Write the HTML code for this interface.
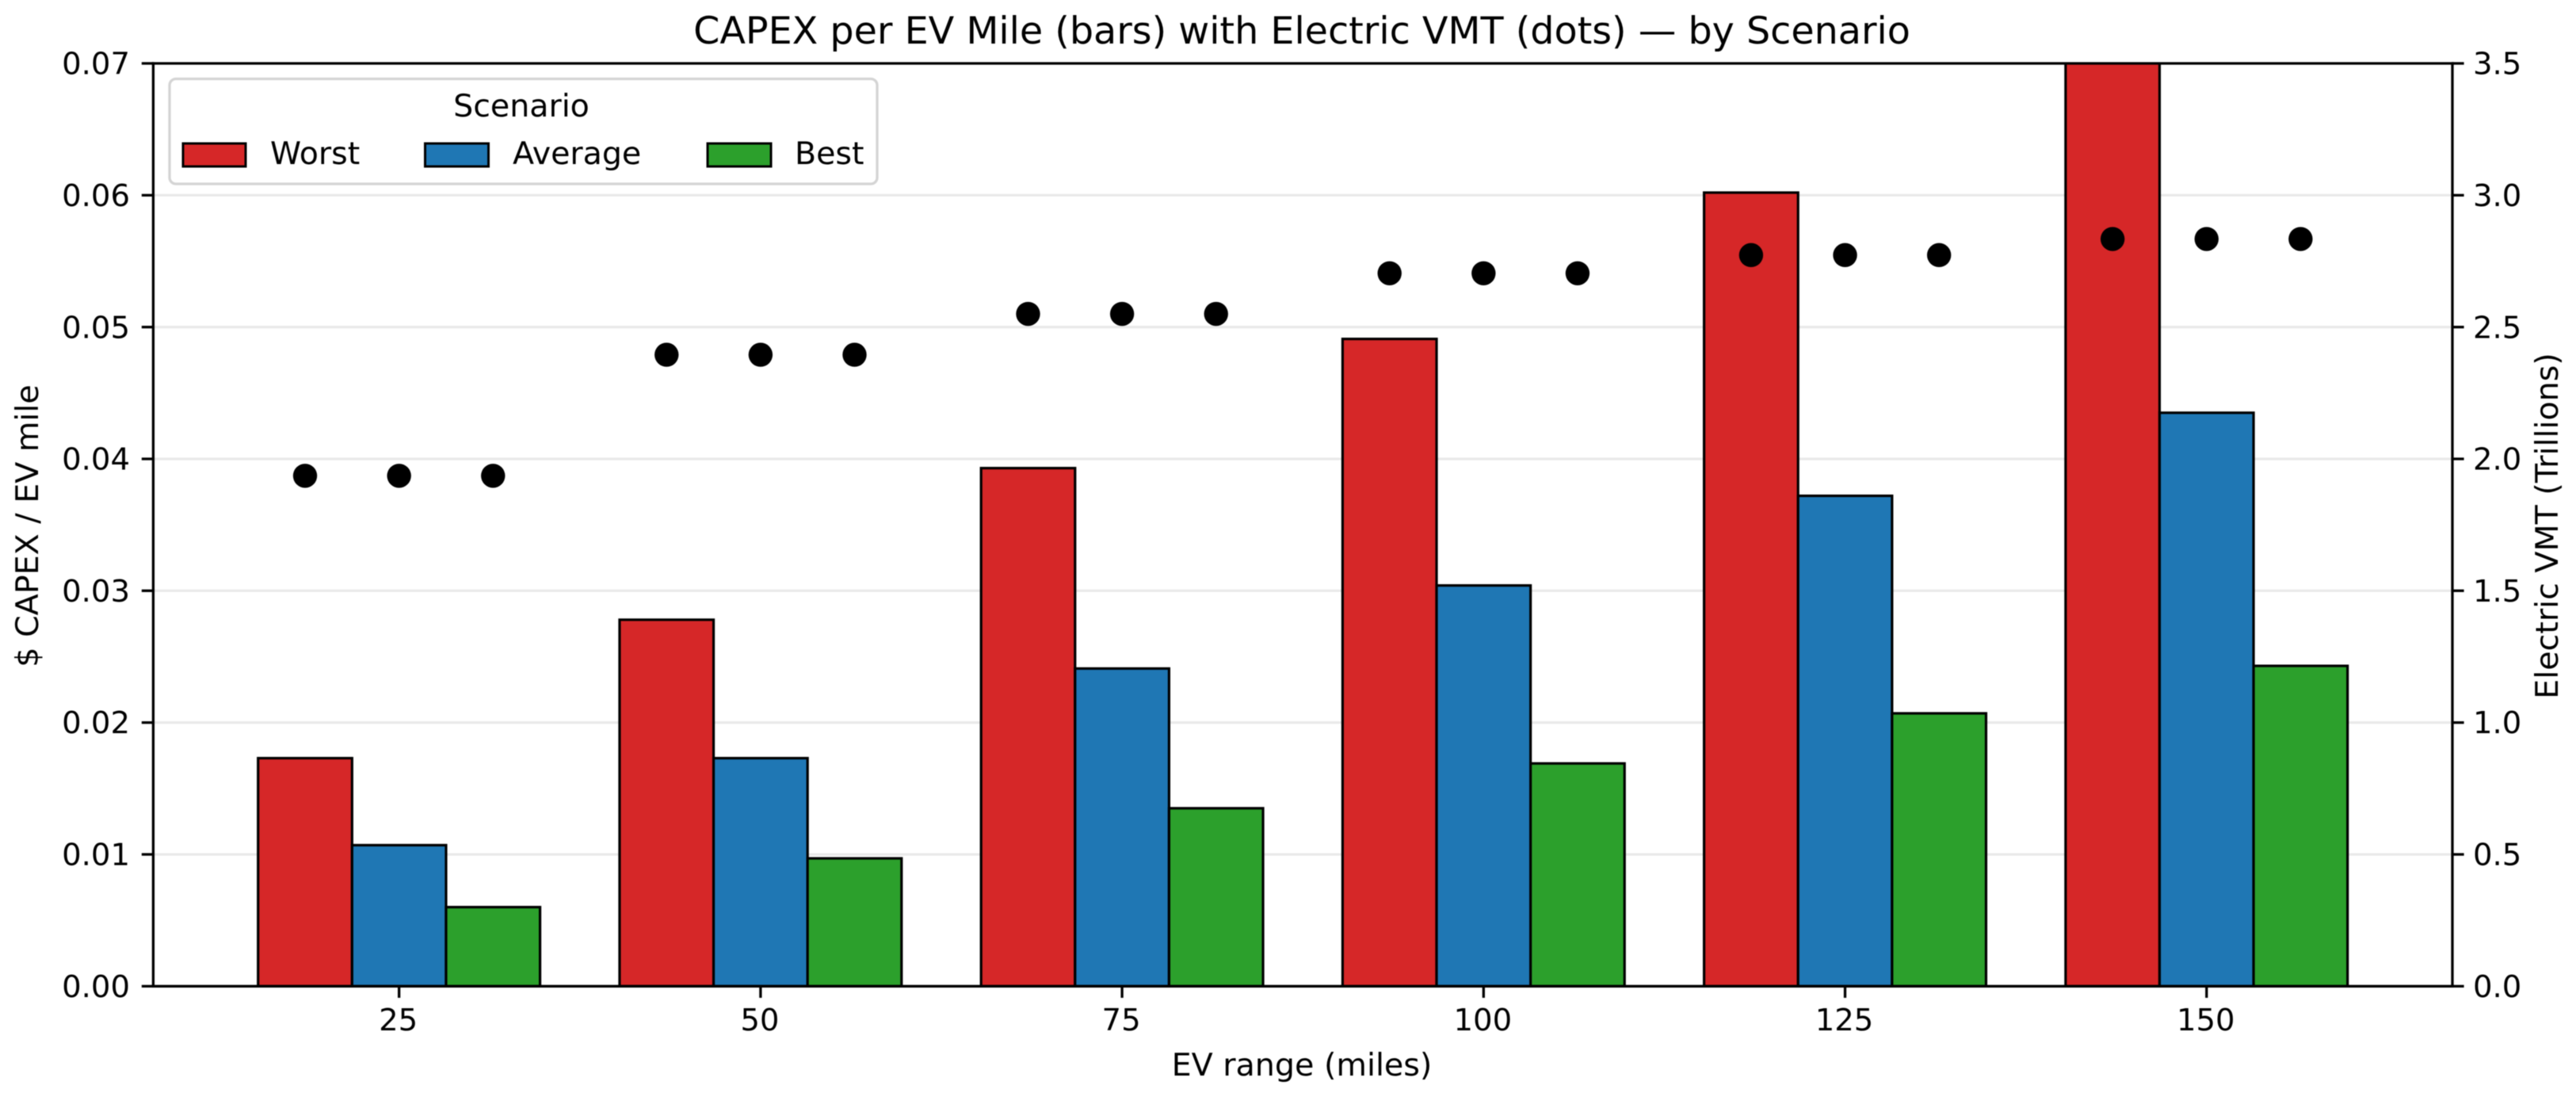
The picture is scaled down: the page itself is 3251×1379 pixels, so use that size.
<!DOCTYPE html>
<html lang="en">
<head>
<meta charset="utf-8">
<title>CAPEX per EV Mile</title>
<style>
  html, body { margin: 0; padding: 0; background: #fff; }
  #chart { display: block; width: 3251px; height: 1379px; filter: blur(0.6px); }
  text { font-family: "DejaVu Sans", "Liberation Sans", sans-serif; fill: #000; }
</style>
</head>
<body>
<svg id="chart" xmlns="http://www.w3.org/2000/svg" width="3251" height="1379" viewBox="0 0 3251 1379">
  <rect x="0" y="0" width="3251" height="1379" fill="#fff"/>
  <defs>
    <clipPath id="plot-clip"><rect x="193.4" y="80" width="2901.6" height="1164.3"/></clipPath>
  </defs>
  <text x="1643" y="55" text-anchor="middle" font-size="47.6">CAPEX per EV Mile (bars) with Electric VMT (dots) — by Scenario</text>
  <g id="grid"></g>
  <g id="bars" clip-path="url(#plot-clip)"></g>
  <g id="dots"></g>
  <g id="axes"></g>
  <text x="1643" y="1357" text-anchor="middle" font-size="39.6">EV range (miles)</text>
  <text transform="translate(48 663.5) rotate(-90)" text-anchor="middle" font-size="39.6">$ CAPEX / EV mile</text>
  <text transform="translate(3228 663.5) rotate(-90)" text-anchor="middle" font-size="39.6">Electric VMT (Trillions)</text>
  <g>
    <rect x="214" y="99.5" width="893" height="132.5" rx="8" ry="8" fill="#fff" fill-opacity="0.85" stroke="#d4d4d4" stroke-width="3.3"/>
    <text x="658" y="147" text-anchor="middle" font-size="39.5">Scenario</text>
    <rect x="231" y="181" width="79" height="29" fill="#d62728" stroke="#000" stroke-width="3"/>
    <text x="341" y="207" font-size="39.5">Worst</text>
    <rect x="536.5" y="181" width="80" height="29" fill="#1f77b4" stroke="#000" stroke-width="3"/>
    <text x="647" y="207" font-size="39.5">Average</text>
    <rect x="893" y="181" width="80" height="29" fill="#2ca02c" stroke="#000" stroke-width="3"/>
    <text x="1003" y="207" font-size="39.5">Best</text>
  </g>
</svg>
<script>
const rangeLabels = ['25', '50', '75', '100', '125', '150'];
const worstCapex = [0.0173, 0.0278, 0.0393, 0.0491, 0.0602, 0.0705];
const averageCapex = [0.0107, 0.0173, 0.0241, 0.0304, 0.0372, 0.0435];
const bestCapex = [0.0060, 0.0097, 0.0135, 0.0169, 0.0207, 0.0243];
const vmtTrillions = [1.936, 2.395, 2.550, 2.704, 2.773, 2.834];
const leftTicks = ['0.00', '0.01', '0.02', '0.03', '0.04', '0.05', '0.06', '0.07'];
const rightTicks = ['0.0', '0.5', '1.0', '1.5', '2.0', '2.5', '3.0', '3.5'];

const SVG_NS = 'http://www.w3.org/2000/svg';
const plotLeft = 193.4, plotRight = 3095, plotTop = 80, plotBottom = 1244.3;
const xMin = -0.68, xMax = 5.68, yMax = 0.07, y2Max = 3.5, barWidth = 0.26;

function xScale(v) { return plotLeft + (v - xMin) / (xMax - xMin) * (plotRight - plotLeft); }
function yScale(v) { return plotBottom - v / yMax * (plotBottom - plotTop); }
function y2Scale(v) { return plotBottom - v / y2Max * (plotBottom - plotTop); }

function make(tag, attrs, parent) {
  const el = document.createElementNS(SVG_NS, tag);
  for (const k in attrs) el.setAttribute(k, attrs[k]);
  parent.appendChild(el);
  return el;
}

const gridG = document.getElementById('grid');
const barsG = document.getElementById('bars');
const dotsG = document.getElementById('dots');
const axesG = document.getElementById('axes');

leftTicks.forEach(function (t) {
  const v = parseFloat(t);
  if (v > 0 && v < yMax) {
    const line = make('line', { x1: plotLeft, x2: plotRight, y1: yScale(v), y2: yScale(v), stroke: '#e9e9e9', 'stroke-width': 3.2 }, gridG);
    
    
  }
});

const seriesList = [
  { key: 'worst', values: worstCapex, color: '#d62728', offset: -1 },
  { key: 'average', values: averageCapex, color: '#1f77b4', offset: 0 },
  { key: 'best', values: bestCapex, color: '#2ca02c', offset: 1 }
];

seriesList.forEach(function (s) {
  s.values.forEach(function (v, i) {
    const c = i + s.offset * barWidth;
    const x0 = xScale(c - barWidth / 2);
    const x1 = xScale(c + barWidth / 2);
    const rect = make('rect', { x: x0, y: yScale(v), width: x1 - x0, height: plotBottom - yScale(v), fill: s.color, stroke: '#000', 'stroke-width': 3.2 }, barsG);
    
    
  });
  vmtTrillions.forEach(function (v, i) {
    const dot = make('circle', { cx: xScale(i + s.offset * barWidth), cy: y2Scale(v), r: 15.2, fill: '#000' }, dotsG);
    
    
  });
});

const spineWidth = 3.3;
[[plotLeft, plotTop, plotLeft, plotBottom, 'left'], [plotRight, plotTop, plotRight, plotBottom, 'right'],
 [plotLeft, plotTop, plotRight, plotTop, 'top'], [plotLeft, plotBottom, plotRight, plotBottom, 'bottom']].forEach(function (p) {
  const spine = make('line', { x1: p[0], y1: p[1], x2: p[2], y2: p[3], stroke: '#000', 'stroke-width': spineWidth, 'stroke-linecap': 'square' }, axesG);
  
  
});

leftTicks.forEach(function (t) {
  const y = yScale(parseFloat(t));
  const tick = make('line', { x1: plotLeft - 14.6, x2: plotLeft, y1: y, y2: y, stroke: '#000', 'stroke-width': spineWidth }, axesG);
  
  
  const label = make('text', { x: 164, y: y + 13.6, 'text-anchor': 'end', 'font-size': 38.6 }, axesG);
  label.textContent = t;
  
  
});

rightTicks.forEach(function (t) {
  const y = y2Scale(parseFloat(t));
  const tick = make('line', { x1: plotRight, x2: plotRight + 14.6, y1: y, y2: y, stroke: '#000', 'stroke-width': spineWidth }, axesG);
  
  
  const label = make('text', { x: 3121, y: y + 13.6, 'font-size': 38.6 }, axesG);
  label.textContent = t;
  
  
});

rangeLabels.forEach(function (t, i) {
  const x = xScale(i);
  const tick = make('line', { x1: x, x2: x, y1: plotBottom, y2: plotBottom + 14.6, stroke: '#000', 'stroke-width': spineWidth }, axesG);
  
  
  const label = make('text', { x: x - 1, y: 1300, 'text-anchor': 'middle', 'font-size': 38.6 }, axesG);
  label.textContent = t;
  
  
});
</script>
</body>
</html>
